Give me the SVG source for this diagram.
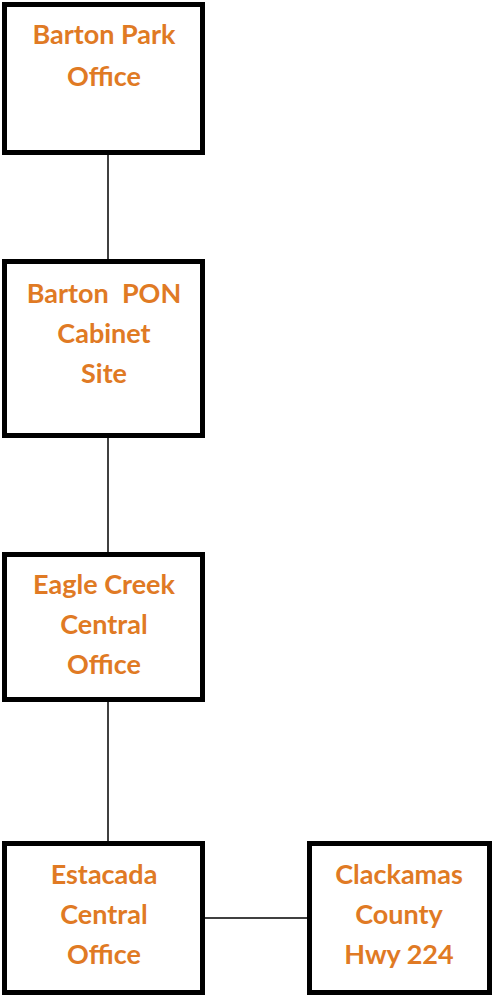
<svg xmlns="http://www.w3.org/2000/svg" width="492" height="996" viewBox="0 0 492 996">
<style>
.box{fill:#fff;stroke:#000;stroke-width:5}
.lbl{font-family:Lato,"Open Sans","Liberation Sans",sans-serif;font-weight:bold;font-size:27px;fill:#E07A24;text-anchor:middle;white-space:pre}
.conn{stroke:#000;stroke-width:1.5;fill:none}
</style>
<rect width="492" height="996" fill="#fff"/>
<g id="connectors">
<line class="conn" x1="108" y1="155" x2="108" y2="259"/>
<line class="conn" x1="108" y1="438" x2="108" y2="552"/>
<line class="conn" x1="108" y1="702" x2="108" y2="841"/>
<line class="conn" x1="205" y1="918" x2="307" y2="918"/>
</g>
<g id="barton-park-office">
<rect class="box" x="4.5" y="4.5" width="198" height="148"/>
<text class="lbl" x="104" y="44">Barton Park</text>
<text class="lbl" x="104" y="86">Office</text>
</g>
<g id="barton-pon-cabinet-site">
<rect class="box" x="4.5" y="261.5" width="198" height="174"/>
<text class="lbl" x="104" y="303" xml:space="preserve">Barton  PON</text>
<text class="lbl" x="104" y="343">Cabinet</text>
<text class="lbl" x="104" y="383">Site</text>
</g>
<g id="eagle-creek-central-office">
<rect class="box" x="4.5" y="554.5" width="198" height="145"/>
<text class="lbl" x="104" y="594">Eagle Creek</text>
<text class="lbl" x="104" y="634">Central</text>
<text class="lbl" x="104" y="674">Office</text>
</g>
<g id="estacada-central-office">
<rect class="box" x="4.5" y="843.5" width="198" height="149"/>
<text class="lbl" x="104" y="884">Estacada</text>
<text class="lbl" x="104" y="924">Central</text>
<text class="lbl" x="104" y="964">Office</text>
</g>
<g id="clackamas-county-hwy-224">
<rect class="box" x="309.5" y="843.5" width="180" height="149"/>
<text class="lbl" x="399" y="884">Clackamas</text>
<text class="lbl" x="399" y="924">County</text>
<text class="lbl" x="399" y="964">Hwy 224</text>
</g>
</svg>
